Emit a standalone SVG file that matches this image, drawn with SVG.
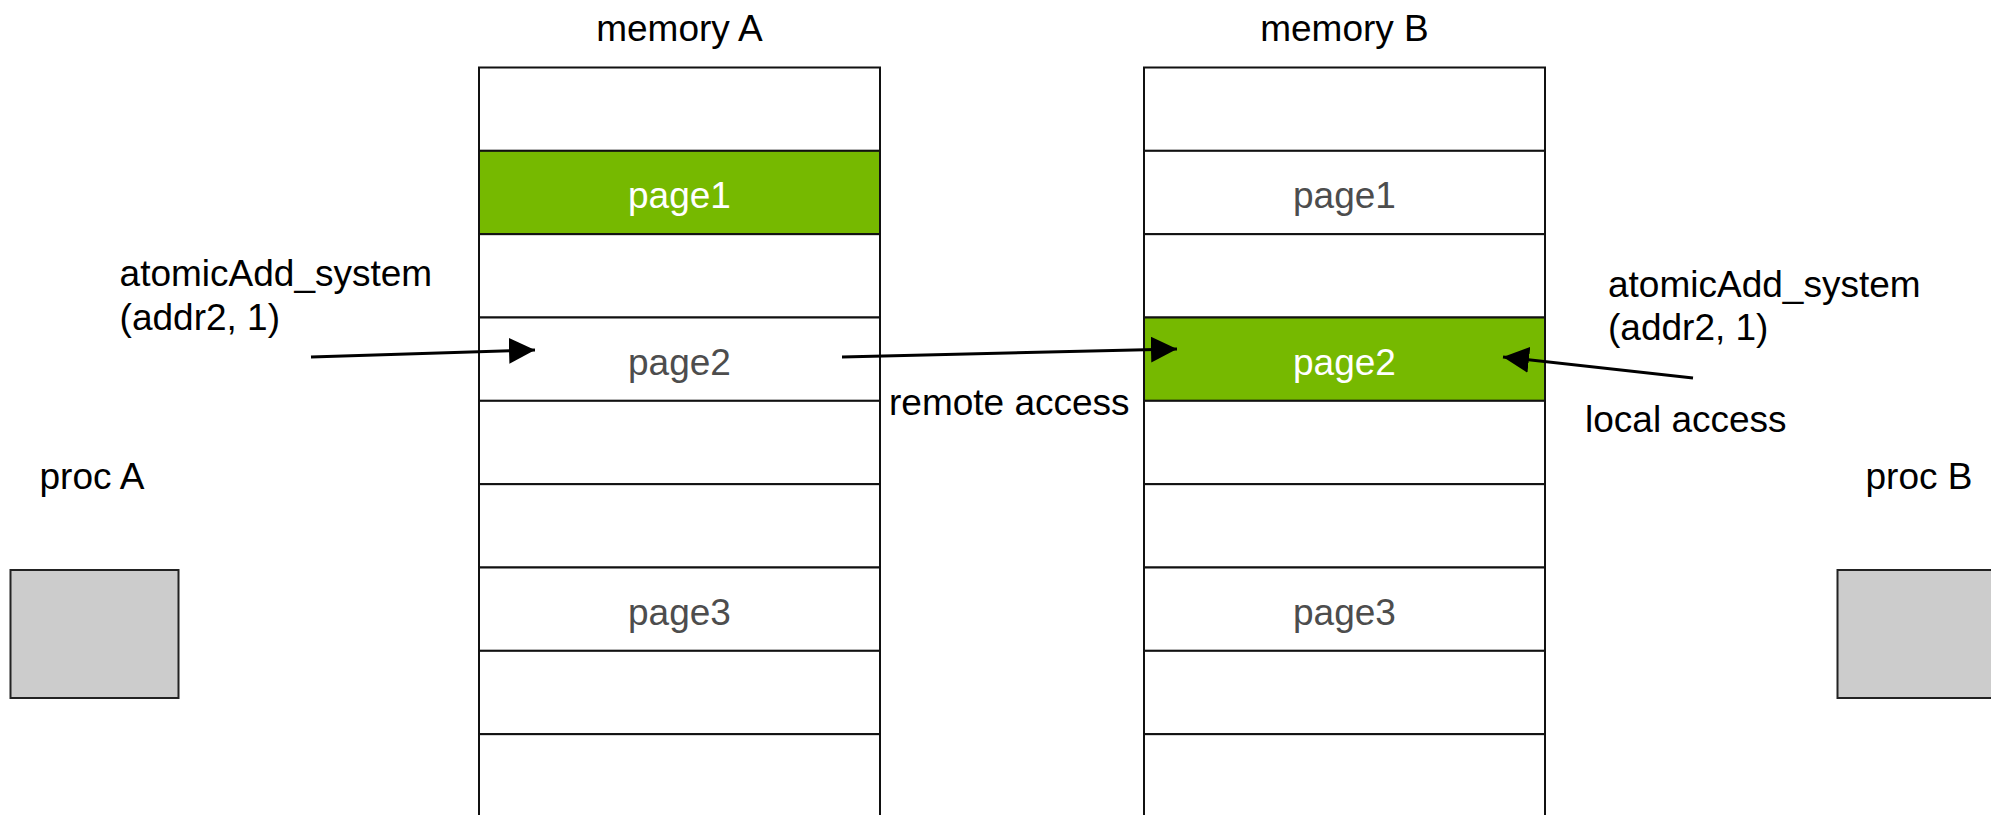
<svg xmlns="http://www.w3.org/2000/svg" width="1991" height="815" viewBox="0 0 1991 815">
<style>
text{font-family:"Liberation Sans",Arial,sans-serif;font-size:37px;fill:#000}
.c{text-anchor:middle}
.pg{fill:#4d4d4d}
.pw{fill:#fff}
.row{fill:#fff;stroke:#111;stroke-width:2}
.g{fill:#76b900}
.proc{fill:#ccc;stroke:#222;stroke-width:2}
.conn{stroke:#000;stroke-width:3;fill:none;marker-end:url(#ah)}
</style>
<defs>
<marker id="ah" viewBox="0 0 26 26" refX="26" refY="13" markerWidth="26" markerHeight="26" markerUnits="userSpaceOnUse" orient="auto">
<path d="M0,0 L26,13 L0,26 z" fill="#000"/>
</marker>
</defs>
<rect width="1991" height="815" fill="#fff"/>
<g id="memoryA">
<text class="c" x="679.5" y="41">memory A</text>
<rect class="row" x="479" y="67.5" width="401" height="83.33"/>
<rect class="row g" x="479" y="150.83" width="401" height="83.33"/>
<rect class="row" x="479" y="234.17" width="401" height="83.33"/>
<rect class="row" x="479" y="317.5" width="401" height="83.33"/>
<rect class="row" x="479" y="400.83" width="401" height="83.33"/>
<rect class="row" x="479" y="484.17" width="401" height="83.33"/>
<rect class="row" x="479" y="567.5" width="401" height="83.33"/>
<rect class="row" x="479" y="650.83" width="401" height="83.33"/>
<rect class="row" x="479" y="734.17" width="401" height="83.33"/>
<text class="c pw" x="679.5" y="208">page1</text>
<text class="c pg" x="679.5" y="374.5">page2</text>
<text class="c pg" x="679.5" y="624.5">page3</text>
</g>
<g id="memoryB">
<text class="c" x="1344.5" y="41">memory B</text>
<rect class="row" x="1144" y="67.5" width="401" height="83.33"/>
<rect class="row" x="1144" y="150.83" width="401" height="83.33"/>
<rect class="row" x="1144" y="234.17" width="401" height="83.33"/>
<rect class="row g" x="1144" y="317.5" width="401" height="83.33"/>
<rect class="row" x="1144" y="400.83" width="401" height="83.33"/>
<rect class="row" x="1144" y="484.17" width="401" height="83.33"/>
<rect class="row" x="1144" y="567.5" width="401" height="83.33"/>
<rect class="row" x="1144" y="650.83" width="401" height="83.33"/>
<rect class="row" x="1144" y="734.17" width="401" height="83.33"/>
<text class="c pg" x="1344.5" y="208">page1</text>
<text class="c pw" x="1344.5" y="374.5">page2</text>
<text class="c pg" x="1344.5" y="624.5">page3</text>
</g>
<g id="procA">
<text class="c" x="92" y="489">proc A</text>
<rect class="proc" x="10.5" y="570" width="168" height="128"/>
</g>
<g id="procB">
<text class="c" x="1919" y="489">proc B</text>
<rect class="proc" x="1837.5" y="570" width="168" height="128"/>
</g>
<g id="labelLeft">
<text x="119.6" y="286">atomicAdd_system</text>
<text x="119.6" y="330">(addr2, 1)</text>
</g>
<g id="labelRight">
<text x="1608" y="297">atomicAdd_system</text>
<text x="1608" y="340">(addr2, 1)</text>
</g>
<g id="labelRemote"><text x="889" y="415">remote access</text></g>
<g id="labelLocal"><text x="1585" y="431.5">local access</text></g>
<g id="connectors">
<line class="conn" x1="311" y1="357" x2="535" y2="350"/>
<line class="conn" x1="842" y1="357" x2="1177" y2="349"/>
<line class="conn" x1="1693" y1="378" x2="1503" y2="357"/>
</g>
</svg>
